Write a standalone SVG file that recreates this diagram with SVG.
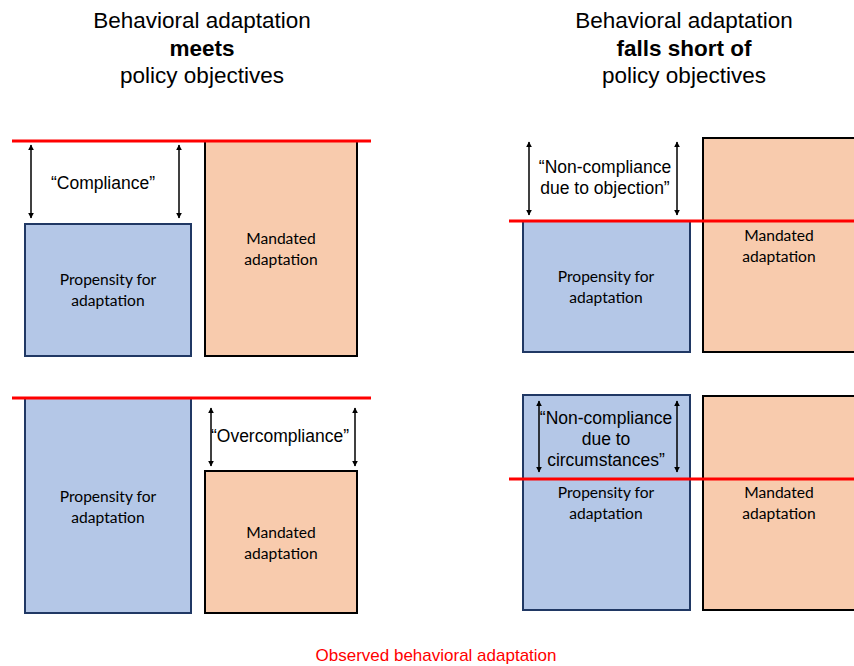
<svg xmlns="http://www.w3.org/2000/svg" width="854" height="666" viewBox="0 0 854 666">
<defs>
<marker id="ah" viewBox="0 0 10 10" refX="9" refY="5" markerWidth="6" markerHeight="6" orient="auto-start-reverse" markerUnits="userSpaceOnUse">
<path d="M0,0 L10,5 L0,10 Z" fill="#000"/>
</marker>
<style>
.blue{fill:#b4c7e7;stroke:#203864;stroke-width:2}
.orange{fill:#f8cbad;stroke:#000;stroke-width:2}
.red{stroke:#ff0000;stroke-width:3}
.arr{stroke:#000;stroke-width:1.5;fill:none;marker-start:url(#ah);marker-end:url(#ah)}
.lbl{font-family:Lato,"Open Sans",sans-serif;font-size:15.6px;fill:#000;text-anchor:middle}
.q{font-family:"Liberation Sans",Arial,sans-serif;font-size:17.5px;fill:#000;text-anchor:middle}
.title{font-family:"Liberation Sans",Arial,sans-serif;font-size:22.5px;fill:#000;text-anchor:middle}
.b{font-weight:bold}
</style>
</defs>
<rect width="854" height="666" fill="#fff"/>
<g id="titles">
<text class="title" x="202" y="28">Behavioral adaptation</text>
<text class="title b" x="202" y="56">meets</text>
<text class="title" x="202" y="83">policy objectives</text>
<text class="title" x="684" y="28">Behavioral adaptation</text>
<text class="title b" x="684" y="56">falls short of</text>
<text class="title" x="684" y="83">policy objectives</text>
</g>
<g id="tl-propensity"><rect class="blue" x="25" y="224" width="166" height="132"/>
<text class="lbl" x="108" y="285">Propensity for</text><text class="lbl" x="108" y="306">adaptation</text></g>
<g id="tl-mandated"><rect class="orange" x="205" y="141" width="152" height="215"/>
<text class="lbl" x="281" y="244">Mandated</text><text class="lbl" x="281" y="265">adaptation</text></g>
<g id="tr-propensity"><rect class="blue" x="523" y="221" width="167" height="131"/>
<text class="lbl" x="606" y="282">Propensity for</text><text class="lbl" x="606" y="303">adaptation</text></g>
<g id="tr-mandated"><rect class="orange" x="703" y="138" width="160" height="214"/>
<text class="lbl" x="779" y="241">Mandated</text><text class="lbl" x="779" y="262">adaptation</text></g>
<g id="bl-propensity"><rect class="blue" x="25" y="398" width="166" height="215"/>
<text class="lbl" x="108" y="502">Propensity for</text><text class="lbl" x="108" y="523">adaptation</text></g>
<g id="bl-mandated"><rect class="orange" x="205" y="471" width="152" height="142"/>
<text class="lbl" x="281" y="538">Mandated</text><text class="lbl" x="281" y="559">adaptation</text></g>
<g id="br-propensity"><rect class="blue" x="523" y="395" width="167" height="215"/>
<text class="lbl" x="606" y="498">Propensity for</text><text class="lbl" x="606" y="519">adaptation</text></g>
<g id="br-mandated"><rect class="orange" x="703" y="396" width="160" height="214"/>
<text class="lbl" x="779" y="498">Mandated</text><text class="lbl" x="779" y="519">adaptation</text></g>
<g id="connectors">
<line class="red" x1="12" y1="141" x2="371" y2="141"/>
<line class="red" x1="509" y1="221" x2="854" y2="221"/>
<line class="red" x1="12" y1="398" x2="371" y2="398"/>
<line class="red" x1="509" y1="479" x2="854" y2="479"/>
<line class="arr" x1="31" y1="145" x2="31" y2="218"/>
<line class="arr" x1="179" y1="145" x2="179" y2="218"/>
<line class="arr" x1="529" y1="142" x2="529" y2="215"/>
<line class="arr" x1="677" y1="142" x2="677" y2="215"/>
<line class="arr" x1="211" y1="408" x2="211" y2="466"/>
<line class="arr" x1="355" y1="408" x2="355" y2="466"/>
<line class="arr" x1="539" y1="401" x2="539" y2="472"/>
<line class="arr" x1="677" y1="401" x2="677" y2="472"/>
</g>
<g id="labels">
<text class="q" x="103" y="189">“Compliance”</text>
<text class="q" x="605" y="173">“Non-compliance</text>
<text class="q" x="605" y="194">due to objection”</text>
<text class="q" x="280" y="442">“Overcompliance”</text>
<text class="q" x="606" y="424">“Non-compliance</text>
<text class="q" x="606" y="445">due to</text>
<text class="q" x="606" y="466">circumstances”</text>
<text x="436" y="661" style="font-family:'Liberation Sans',Arial,sans-serif;font-size:17px;fill:#ff0000;text-anchor:middle">Observed behavioral adaptation</text>
</g>
</svg>
